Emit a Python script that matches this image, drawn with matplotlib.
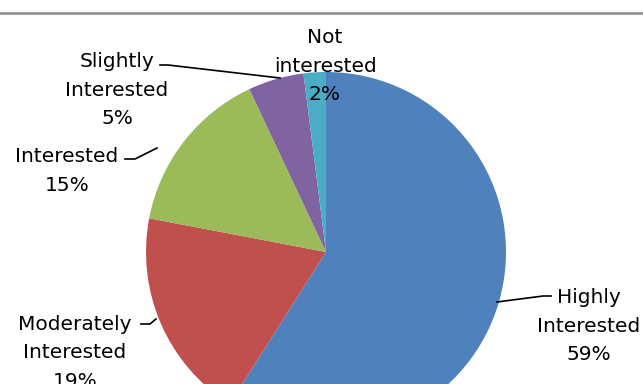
import matplotlib.pyplot as plt

labels = ['Highly\nInterested', 'Moderately\nInterested', 'Interested',
          'Slightly\nInterested', 'Not\ninterested']
shares = [59, 19, 15, 5, 2]
colors = ['#4F81BD', '#C0504D', '#9BBB59', '#8064A2', '#4BACC6']

W, H = 643, 384

# label centres and leader lines, in pixels from the top-left corner
label_pos = [(589, 326), (75, 353), (67, 171), (117, 90), (325, 66)]
leaders = [
    [(497, 302), (543, 296), (551, 296)],
    [(141, 324), (150, 324), (156, 319)],
    [(125, 159), (135, 159), (157, 148)],
    [(160, 65), (168, 65), (280, 78)],
    None,
]

fig = plt.figure(figsize=(W / 100, H / 100), dpi=100)
ax = fig.add_axes([0, 0, 1, 1])

ax.pie(shares, colors=colors, startangle=90, counterclock=False,
       center=(326, H - 252), radius=180,
       wedgeprops={'linewidth': 0})
ax.set_xlim(0, W)
ax.set_ylim(0, H)
ax.set_aspect('equal')
ax.axis('off')

# grey frame line at top
ax.plot([0, W], [H - 13, H - 13], color='#8c8c8c', lw=1.8, clip_on=False)

for lab, v, (x, y), ld in zip(labels, shares, label_pos, leaders):
    ax.text(x, H - y, f'{lab}\n{v}%', ha='center', va='center',
            fontsize=14.5, linespacing=1.65, color='black')
    if ld:
        ax.plot([p[0] for p in ld], [H - p[1] for p in ld],
                color='black', lw=1.2)

fig.savefig('out.png', dpi=100)
